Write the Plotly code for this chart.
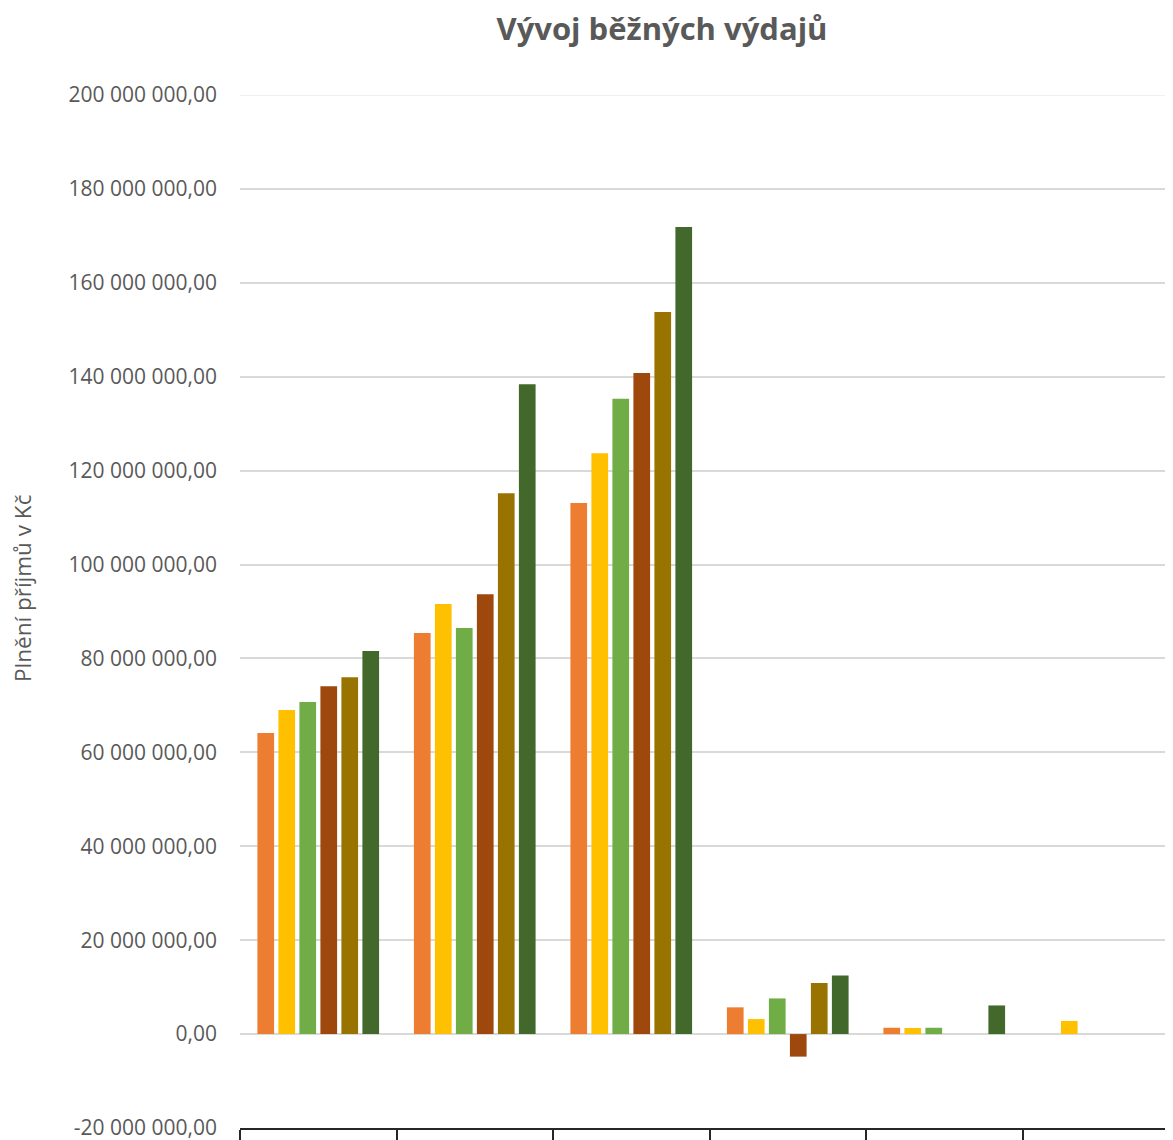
import plotly.graph_objects as go

# Data (values in Kč)
categories = ["Kategorie 1", "Kategorie 2", "Kategorie 3", "Daně a poplatky", "Kategorie 5", "Kategorie 6"]
series_names = ["2015", "2016", "2017", "2018", "2019", "2020"]
series_colors = ["#ED7D31", "#FFC000", "#70AD47", "#9E480E", "#997300", "#43682B"]

values_2015 = [64100000, 85400000, 113100000, 5700000, 1350000, 0]
values_2016 = [69000000, 91600000, 123700000, 3200000, 1300000, 2800000]
values_2017 = [70700000, 86500000, 135300000, 7600000, 1350000, 0]
values_2018 = [74100000, 93700000, 140800000, -4800000, 0, 0]
values_2019 = [76000000, 115200000, 153800000, 10900000, 0, 0]
values_2020 = [81600000, 138400000, 171900000, 12500000, 6100000, 0]

series_values = [values_2015, values_2016, values_2017, values_2018, values_2019, values_2020]

tick_values = [-20000000, 0, 20000000, 40000000, 60000000, 80000000, 100000000,
               120000000, 140000000, 160000000, 180000000, 200000000]


def czech_number(v):
    return f"{v:,.2f}".replace(",", " ").replace(".", ",")


tick_text = [czech_number(v) for v in tick_values]

font_family = "Open Sans"
text_grey = "#595959"

# the page body adds an 8 px offset; the plot runs slightly past the right edge as in the reference
W, H = 1173, 1132
ML, MT, MB = 232, 87, 12
plot_w = W - ML
plot_h = H - MT - MB
cat_px = 156.5

fig = go.Figure()
for name, vals, color in zip(series_names, series_values, series_colors):
    fig.add_trace(go.Bar(x=categories, y=vals, name=name, marker_color=color,
                         marker_line_width=0))

fig.update_layout(
    width=W, height=H,
    margin=dict(l=ML, r=0, t=MT, b=MB, autoexpand=False),
    plot_bgcolor="white", paper_bgcolor="white",
    barmode="group", bargap=0.195, bargroupgap=0.205,
    showlegend=False,
    font=dict(family=font_family, color=text_grey),
    title=dict(text="<b>Vývoj běžných výdajů</b>", x=654 / W, xref="container", xanchor="center",
               y=1 - 21 / H, yref="container", yanchor="middle",
               font=dict(size=31, color=text_grey, family=font_family)),
)

fig.update_yaxes(
    range=[-20000000, 200000000], tickvals=tick_values, ticktext=tick_text,
    tickfont=dict(size=21, color=text_grey), ticklabelstandoff=22, ticklabeloverflow="allow",
    showgrid=True, gridcolor="#D9D9D9", gridwidth=1.5,
    zeroline=True, zerolinecolor="#D9D9D9", zerolinewidth=2,
    showline=False, ticks="", automargin=False,
)

# category labels fall below the visible area in the reference, so they are not drawn
fig.update_xaxes(
    range=[-0.5, -0.5 + plot_w / cat_px],
    showline=True, linecolor="#262626", linewidth=2,
    ticks="outside", tickson="boundaries", ticklen=16, tickcolor="#262626", tickwidth=1.5,
    showticklabels=False, showgrid=False, automargin=False,
)

# faint top gridline at the upper edge of the plot area
fig.add_shape(type="line", xref="paper", yref="y", x0=0, x1=1, y0=200000000, y1=200000000,
              line=dict(color="#EBEBEB", width=1.5))

fig.add_annotation(text="Plnění příjmů v Kč", textangle=-90, xref="paper", yref="paper",
                   x=(14 - ML) / plot_w, y=(MT + plot_h - 580) / plot_h, xanchor="center", yanchor="middle",
                   showarrow=False, font=dict(size=22.5, color=text_grey, family=font_family))

fig.write_html("out.html")
